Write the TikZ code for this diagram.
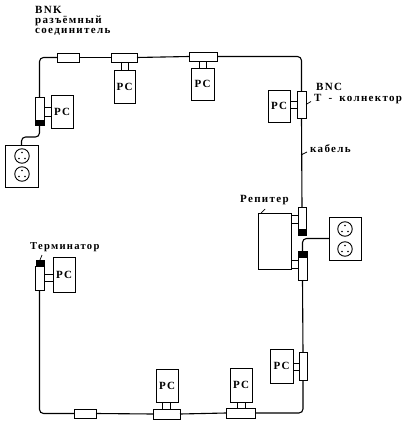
\documentclass[tikz,border=0pt]{standalone}
\usepackage{fontspec}
\usetikzlibrary{calc}
\setmainfont{Liberation Serif}
\newfontfamily\labfont[LetterSpace=12]{Liberation Serif}
\newcommand{\bx}[6]{%
  \pgfmathsetmacro{\bxcx}{(#3+#5)/2}\pgfmathsetmacro{\bxcy}{(#4+#6)/2}%
  \pgfmathsetmacro{\bxw}{#5-#3}\pgfmathsetmacro{\bxh}{#6-#4}%
  \node[#2,minimum width=\bxw pt,minimum height=\bxh pt] (#1) at (\bxcx,\bxcy) {};}
\newcommand{\pcbx}[5]{%
  \pgfmathsetmacro{\bxcx}{(#2+#4)/2}\pgfmathsetmacro{\bxcy}{(#3+#5)/2}%
  \pgfmathsetmacro{\bxw}{#4-#2}\pgfmathsetmacro{\bxh}{#5-#3}%
  \node[part,font=\fontsize{11}{11}\labfont\bfseries,minimum width=\bxw pt,minimum height=\bxh pt] (#1) at (\bxcx,\bxcy) {PC};}
\newcommand{\sock}[3]{%
  \node[socket] (#1) at (#2,#3) {};
  \fill (#2,#3-3.5) circle (0.9);
  \fill (#2-3,#3+2.5) circle (0.9);
  \fill (#2+3,#3+2.5) circle (0.9);}
\tikzset{
  part/.style={draw=black,line width=0.9pt,fill=white,inner sep=0pt,outer sep=0pt},
  tip/.style={draw=black,fill=black,inner sep=0pt,outer sep=0pt},
  socket/.style={circle,draw=black,line width=0.9pt,inner sep=0pt,minimum size=14.5pt},
  cable/.style={line width=1.1pt,rounded corners=4pt},
  leader/.style={line width=0.7pt},
  lbl/.style={anchor=west,inner sep=0pt,font=\fontsize{11}{11}\labfont\bfseries},
}
\begin{document}
\begin{tikzpicture}[x=1pt,y=-1pt]
\useasboundingbox (0,0) rectangle (406,423);
\fill[white] (0,0) rectangle (406,423);
% top row
\bx{b1}{part}{57}{53}{79}{62}
\bx{t1}{part}{111}{53}{137}{62}
\bx{s1}{part}{121}{62}{128}{70}
\pcbx{p1}{114}{70}{135}{103}
\bx{t2}{part}{189}{52}{217}{61}
\bx{s2}{part}{199}{61}{206}{68}
\pcbx{p2}{191}{68}{214}{100}
% top left
\bx{tl}{part}{35}{97}{44}{120}
\bx{ktl}{tip}{35}{120}{44}{125}
\bx{sl}{part}{44}{107}{51}{116}
\pcbx{pl}{51}{95}{73}{128}
\bx{ol}{part}{5}{145}{38}{187}
\sock{o1a}{22}{156}
\sock{o1b}{22}{174}
% right upper
\bx{tr}{part}{297}{91}{306}{118}
\bx{sr}{part}{290}{101}{297}{108}
\pcbx{pr}{268}{90}{290}{122}
% repeater
\bx{ru}{part}{298}{207}{306}{229}
\bx{kru}{tip}{298}{229}{306}{235}
\bx{rep}{part}{258}{213}{291}{269}
\bx{su}{part}{291}{215}{298}{223}
\bx{krl}{tip}{298}{251}{307}{257}
\bx{rl}{part}{298}{257}{307}{280}
\bx{sd}{part}{291}{260}{298}{268}
\bx{or}{part}{329}{217}{361}{260}
\sock{o2a}{345}{229}
\sock{o2b}{345}{249}
% right lower
\bx{tq}{part}{299}{352}{307}{380}
\bx{sq}{part}{293}{363}{299}{370}
\pcbx{pq}{270}{349}{293}{383}
% bottom row
\bx{t3}{part}{226}{408}{255}{418}
\bx{s3}{part}{237}{402}{245}{408}
\pcbx{p3}{230}{368}{252}{402}
\bx{t4}{part}{153}{409}{180}{419}
\bx{s4}{part}{162}{402}{170}{409}
\pcbx{p4}{156}{369}{178}{402}
\bx{b2}{part}{74}{409}{96}{418}
% terminator side
\bx{kte}{tip}{36}{260}{44}{266}
\bx{te}{part}{35}{266}{44}{290}
\bx{se}{part}{44}{274}{53}{281}
\pcbx{pe}{53}{257}{75}{292}
% cables
\draw[cable] (tl.north) |- (b1.west);
\draw[cable] (b1.east) -- (t1.west);
\draw[cable] (t1.east) -- (t2.west);
\draw[cable] (t2.east) -| (tr.north);
\draw[cable] (tr.south) -- (ru.north);
\draw[cable] (rl.south) -- (tq.north);
\draw[cable] (tq.south) |- (t3.east);
\draw[cable] (t3.west) -- (t4.east);
\draw[cable] (t4.west) -- (b2.east);
\draw[cable] (b2.west) -| (te.south);
\draw[cable] (ktl.south) |- ($(ol.north)+(0,-8)$) -- (ol.north);
\draw[cable] (krl.north) |- (or.west);
% labels
\node[lbl] (l1) at (35,10) {BNK};
\node[lbl] (l2) at (35,21) {разъёмный};
\node[lbl] (l3) at (35,32) {соединитель};
\node[lbl] (l4) at (316,87) {BNC};
\node[lbl] (l5) at (314,99) {T\hspace{3pt} -\hspace{3pt} колнектор};
\node[lbl] (l6) at (310,149) {кабель};
\node[lbl] (l7) at (240,200) {Репитер};
\node[lbl,font=\fontsize{10.6}{11}\labfont\bfseries] (l8) at (30,247) {Терминатор};
% leaders
\draw[leader] (tr.east) -- +(5,-3);
\draw[leader] (301,155) -- (307,152);
\draw[leader] (261,213) -- (265,209);
\draw[leader] (kte.north) -- (42,255);
\end{tikzpicture}
\end{document}
